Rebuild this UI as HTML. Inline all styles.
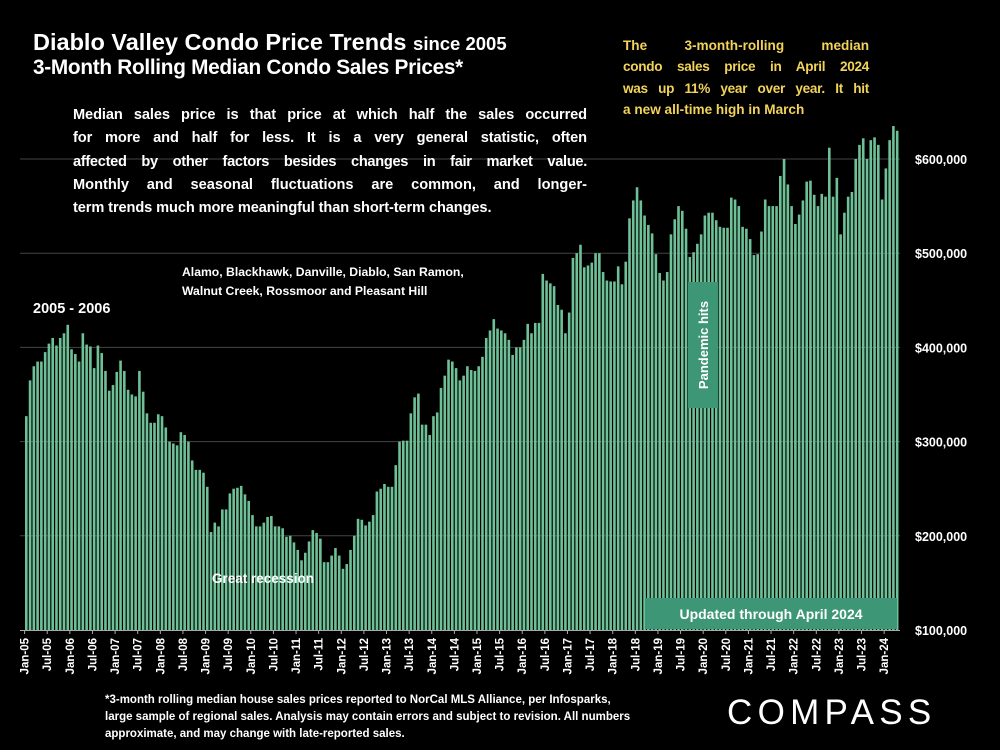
<!DOCTYPE html>
<html><head><meta charset="utf-8"><style>
body{margin:0;background:#000;}
#c{position:relative;width:1000px;height:750px;background:#000;overflow:hidden;font-family:"Liberation Sans",sans-serif;color:#fff;font-weight:bold;}
.t{position:absolute;white-space:nowrap;}
.j{text-align:justify;text-align-last:justify;white-space:nowrap;}
.l{text-align:left;white-space:nowrap;}
</style></head><body>
<div id="c">
<svg id="svg" width="1000" height="750" style="position:absolute;left:0;top:0"></svg>
<div class="t" style="left:33px;top:29px;font-size:23.5px;">Diablo Valley Condo Price Trends <span style="font-size:18.5px">since 2005</span></div>
<div class="t" style="left:33px;top:56px;font-size:20.8px;letter-spacing:-0.3px;">3-Month Rolling Median Condo Sales Prices*</div>
<div class="t" style="left:623px;top:35px;width:246px;color:#f2d35a;font-size:13.6px;line-height:21.3px;">
<div class="j">The 3-month-rolling median</div>
<div class="j" style="letter-spacing:-0.3px">condo sales price in April 2024</div>
<div class="j" style="letter-spacing:-0.3px">was up 11% year over year. It hit</div>
<div class="l">a new all-time high in March</div>
</div>
<div class="t" style="left:73px;top:104px;width:514px;font-size:14.6px;line-height:23.3px;">
<div class="j" style="letter-spacing:-0.1px">Median sales price is that price at which half the sales occurred</div>
<div class="j" style="letter-spacing:-0.1px">for more and half for less. It is a very general statistic, often</div>
<div class="j" style="letter-spacing:-0.3px">affected by other factors besides changes in fair market value.</div>
<div class="j" style="letter-spacing:0px">Monthly and seasonal fluctuations are common, and longer-</div>
<div class="l" style="letter-spacing:-0.1px">term trends much more meaningful than short-term changes.</div>
</div>
<div class="t" style="left:182px;top:263px;font-size:12.2px;line-height:19px;">Alamo, Blackhawk, Danville, Diablo, San Ramon,<br>Walnut Creek, Rossmoor and Pleasant Hill</div>
<div class="t" style="left:33px;top:301px;font-size:14.5px;">2005 - 2006</div>
<div class="t" style="left:212px;top:571px;font-size:13.5px;">Great recession</div>
<div class="t" style="left:105px;top:692px;font-size:11.5px;line-height:17px;">*3-month rolling median house sales prices reported to NorCal MLS Alliance, per Infosparks,<br>large sample of regional sales. Analysis may contain errors and subject to revision. All numbers<br>approximate, and may change with late-reported sales.</div>
<div class="t" style="left:727px;top:693px;font-size:35px;font-weight:normal;letter-spacing:5.3px;">COMPASS</div>
</div>
<script>
const values=[327,365,380,385,385,395,404,410,402,410,415,424,398,393,385,415,403,401,378,402,394,375,354,360,374,386,375,355,350,348,375,353,330,320,320,329,327,315,300,298,296,310,307,300,280,270,270,267,
252,204,214,210,228,228,245,250,251,253,244,237,222,210,210,214,220,221,210,210,208,199,200,193,185,174,182,194,206,203,197,172,172,179,187,179,165,170,185,200,218,217,211,215,222,247,250,255,252,252,275,300,301,301,330,347,351,318,318,
307,327,331,357,370,387,385,378,365,370,380,376,375,380,390,410,418,430,420,418,415,408,392,400,400,408,425,415,426,426,478,471,468,465,445,440,415,437,495,500,509,485,487,490,500,500,480,471,470,470,486,467,491,537,556,570,556,540,530,
521,499,479,471,480,520,536,550,545,526,496,501,510,520,540,543,543,535,528,527,527,559,557,550,528,526,515,498,499,523,557,550,550,550,582,600,573,550,531,541,556,576,577,562,550,563,560,612,560,580,520,543,560,565,600,615,622,600,620,623,615,557,590,620,635,630];
const yTicks=[100,200,300,400,500,600];
const yTickLabels=["$100,000","$200,000","$300,000","$400,000","$500,000","$600,000"];
const monthNames=["Jan","Jul"];
const startYear=5;
const NS="http://www.w3.org/2000/svg";
const svg=document.getElementById('svg');
const X0=24.6,STEP=3.77,BASE=630,PPK=0.942;
function y(v){return BASE-(v-100)*PPK;}
function x(i){return X0+i*STEP;}
function mk(t,a){const e=document.createElementNS(NS,t);for(const k in a)e.setAttribute(k,a[k]);svg.appendChild(e);return e;}
yTicks.forEach((v,k)=>{
  if(v>100){const g=mk('line',{x1:20,x2:900,y1:y(v),y2:y(v),stroke:'#444','stroke-width':1});
  
  }
  const t=mk('text',{x:915,y:y(v)+5,fill:'#fff','font-size':12.5,'font-weight':'bold','font-family':'Liberation Sans'});
  t.textContent=yTickLabels[k];
  
  
});
values.forEach((v,i)=>{
  const r=mk('rect',{x:x(i)+0.4,y:y(v),width:2.6,height:BASE-y(v),fill:'#6ec197'});
  
  
});
const ax=mk('line',{x1:20,x2:900,y1:BASE+0.5,y2:BASE+0.5,stroke:'#aaa','stroke-width':1});


for(let i=0;i<values.length;i+=6){
  const yr=startYear+Math.floor(i/12);
  const lab=monthNames[(i/6)%2]+'-'+String(yr).padStart(2,'0');
  const tk=mk('line',{x1:x(i),x2:x(i),y1:BASE,y2:BASE+4,stroke:'#aaa','stroke-width':1});
  
  
  const t=mk('text',{x:0,y:0,fill:'#fff','font-size':11.5,'font-weight':'bold','font-family':'Liberation Sans','text-anchor':'end',transform:`translate(${x(i)+4},${BASE+8}) rotate(-90)`});
  t.textContent=lab;
  
  
}
const pb=mk('rect',{x:688,y:282,width:30,height:126,fill:'#3d9675'});


const pt=mk('text',{x:0,y:0,fill:'#fff','font-size':13,'font-weight':'bold','font-family':'Liberation Sans','text-anchor':'middle',transform:'translate(708,345) rotate(-90)'});
pt.textContent='Pandemic hits';


const ub=mk('rect',{x:645,y:598,width:252,height:31,fill:'#3d9675'});


const ut=mk('text',{x:771,y:619,fill:'#fff','font-size':14,'font-weight':'bold','font-family':'Liberation Sans','text-anchor':'middle'});
ut.textContent='Updated through April 2024';


</script>
</body></html>
